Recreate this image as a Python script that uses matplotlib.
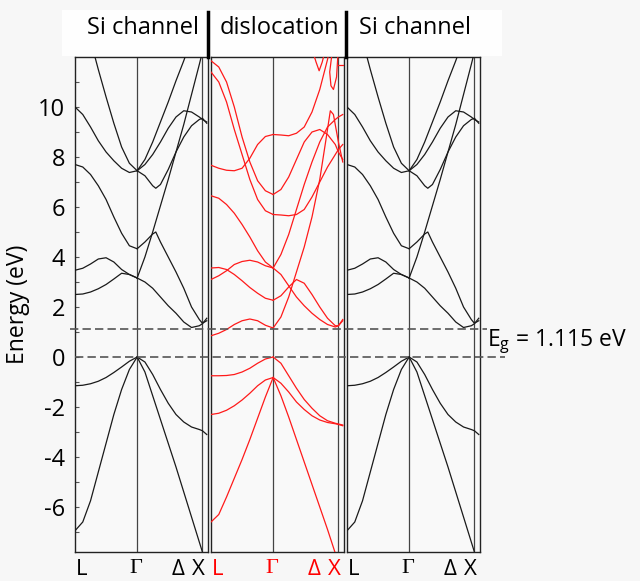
import matplotlib as mpl
from matplotlib import pyplot as plt, transforms as mtr, ticker as tkr
from matplotlib.lines import Line2D
from matplotlib.patches import Rectangle

mpl.use('Agg')

plt.rcParams['font.family'] = ['Open Sans', 'DejaVu Sans']

# k-path positions (L - Gamma - X), energies in eV
K_LG = [0, 0.125, 0.25, 0.375, 0.5, 0.625, 0.75, 0.875, 1.0]
K_GX = [1.0, 1.125, 1.25, 1.375, 1.5, 1.625, 1.75, 1.875, 2.0, 2.05, 2.12]
K_X = 2.05
E_GAP = 1.115

panel_titles = ['Si channel', 'dislocation', 'Si channel']
k_labels = ['L', '\u0393', '\u0394', 'X']
k_label_pos = [0.1, 0.98, 1.66, 1.99]
y_ticks = [-6, -4, -2, 0, 2, 4, 6, 8, 10]

# bulk Si bands (black, used for both channel panels)
si_valence = [
    (K_LG, [-1.15, -1.13, -1.07, -0.97, -0.82, -0.62, -0.4, -0.17, 0.0]),
    (K_GX, [0.0, -0.2, -0.7, -1.3, -1.85, -2.3, -2.6, -2.8, -2.9, -2.95, -3.1]),
    (K_LG, [-6.95, -6.6, -5.75, -4.6, -3.45, -2.3, -1.3, -0.5, 0.0]),
    (K_GX, [0.0, -0.6, -1.55, -2.5, -3.45, -4.4, -5.4, -6.4, -7.4, -7.8, -8.4]),
]
si_conduction = [
    (K_LG, [2.5, 2.52, 2.6, 2.73, 2.9, 3.12, 3.35, 3.3, 3.16]),
    (K_LG, [3.47, 3.55, 3.72, 3.92, 3.97, 3.8, 3.5, 3.3, 3.16]),
    (K_GX, [3.16, 3.0, 2.75, 2.4, 2.05, 1.75, 1.4, 1.18, 1.25, 1.33, 1.55]),
    (K_LG, [7.7, 7.6, 7.3, 6.85, 6.3, 5.6, 4.95, 4.45, 4.33]),
    ([1.0, 1.125, 1.25, 1.3, 1.375, 1.5, 1.625, 1.75, 1.875, 2.0, 2.05, 2.12],
     [4.33, 4.6, 4.92, 5.0, 4.6, 4.0, 3.4, 2.75, 2.0, 1.5, 1.35, 1.45]),
    (K_GX[:10], [3.16, 4.0, 5.0, 6.05, 7.1, 8.2, 9.3, 10.5, 11.7, 12.2]),
    (K_LG, [10.0, 9.7, 9.2, 8.65, 8.2, 7.85, 7.55, 7.38, 7.45]),
    ([0.3, 0.375, 0.5, 0.625, 0.75, 0.875, 1.0],
     [12.2, 11.5, 10.4, 9.35, 8.4, 7.75, 7.45]),
    (K_GX, [7.45, 7.7, 8.1, 8.6, 9.15, 9.6, 9.85, 9.8, 9.6, 9.5, 9.4]),
    ([1.0, 1.125, 1.25, 1.3, 1.375, 1.5, 1.625, 1.75, 1.875, 2.0, 2.05, 2.12],
     [7.45, 7.25, 6.85, 6.75, 6.9, 7.5, 8.2, 8.8, 9.25, 9.5, 9.55, 9.35]),
    ([1.0, 1.125, 1.25, 1.375, 1.5, 1.625, 1.75, 1.8],
     [7.45, 7.9, 8.6, 9.4, 10.2, 11.05, 11.85, 12.2]),
]

# dislocation bands (red)
disl_valence = [
    (K_LG, [-0.75, -0.75, -0.74, -0.7, -0.6, -0.45, -0.25, -0.08, 0.0]),
    (K_GX, [0.0, -0.25, -0.75, -1.25, -1.7, -2.05, -2.35, -2.55, -2.65, -2.68, -2.72]),
    (K_LG, [-2.3, -2.25, -2.13, -1.95, -1.72, -1.45, -1.15, -0.92, -0.82]),
    (K_GX, [-0.82, -1.05, -1.4, -1.8, -2.1, -2.35, -2.52, -2.62, -2.67, -2.7, -2.75]),
    (K_LG, [-6.6, -6.3, -5.6, -4.85, -4.1, -3.3, -2.45, -1.6, -0.82]),
    (K_GX[:9], [-0.82, -1.55, -2.4, -3.3, -4.2, -5.1, -6.0, -6.9, -7.85]),
]
disl_conduction = [
    (K_LG, [0.85, 0.95, 1.1, 1.3, 1.45, 1.52, 1.45, 1.27, 1.16]),
    ([1.0, 1.125, 1.25, 1.375, 1.5, 1.625, 1.75, 1.85, 1.92, 1.97, 2.05, 2.12],
     [1.16, 1.6, 2.4, 3.4, 4.4, 5.6, 7.1, 8.7, 9.85, 9.7, 8.6, 7.8]),
    (K_LG, [3.56, 3.58, 3.5, 3.3, 3.05, 2.78, 2.55, 2.35, 2.27]),
    (K_GX, [2.27, 2.45, 2.8, 3.1, 2.95, 2.5, 2.0, 1.55, 1.25, 1.25, 1.45]),
    (K_LG, [3.1, 3.25, 3.45, 3.7, 3.82, 3.87, 3.8, 3.65, 3.56]),
    (K_GX, [3.56, 3.3, 2.85, 2.4, 2.05, 1.75, 1.5, 1.3, 1.2, 1.25, 1.5]),
    (K_LG, [6.45, 6.35, 6.1, 5.75, 5.3, 4.8, 4.25, 3.8, 3.56]),
    (K_GX, [3.56, 4.1, 4.9, 5.9, 6.9, 7.8, 8.6, 9.2, 9.5, 9.6, 9.7]),
    (K_LG, [11.4, 11.0, 10.2, 9.1, 8.1, 7.1, 6.3, 5.85, 5.7]),
    (K_GX, [5.7, 5.68, 5.65, 5.7, 5.9, 6.4, 7.0, 7.6, 8.1, 8.3, 8.5]),
    (K_LG, [11.85, 11.6, 11.0, 10.0, 8.8, 7.8, 7.05, 6.65, 6.5]),
    (K_GX, [6.5, 6.7, 7.2, 7.9, 8.6, 9.0, 9.1, 8.9, 8.5, 8.2, 7.9]),
    (K_LG, [7.67, 7.55, 7.47, 7.45, 7.55, 7.95, 8.5, 8.82, 8.9]),
    ([1.0, 1.125, 1.25, 1.375, 1.5, 1.625, 1.75, 1.875, 1.9],
     [8.9, 8.88, 8.85, 8.95, 9.2, 9.8, 10.7, 11.9, 12.2]),
    ([1.64, 1.69, 1.74, 1.79, 1.83], [12.2, 11.8, 11.45, 11.8, 12.2]),
    ([1.95, 1.91, 1.93, 1.97, 2.02, 2.04], [12.2, 11.4, 10.85, 10.7, 11.2, 12.0]),
    ([2.05, 2.12], [11.7, 11.7]),
]

W, H = 640, 581
fig = plt.figure(figsize=(W / 100, H / 100), dpi=100, facecolor='#f7f7f7')

# white box behind the panel titles
fig.patches.append(Rectangle((62 / W, 1 - 56 / H), 440 / W, 46 / H,
                             transform=fig.transFigure, facecolor='#fefefe',
                             edgecolor='none', zorder=0))

panel_left = [75, 211, 347]
panels = [(si_valence + si_conduction, '#1a1a1a', 'black'),
          (disl_valence + disl_conduction, '#ff1a1a', '#ff0000'),
          (si_valence + si_conduction, '#1a1a1a', 'black')]
axes = []
for i, (bands, color, lab_color) in enumerate(panels):
    ax = fig.add_axes([panel_left[i] / W, 1 - 552 / H, 133 / W, 495 / H])
    ax.set_facecolor('#f9f9f9')
    for k, e in bands:
        ax.plot(k, e, color=color, lw=0.9, zorder=3)
    ax.axvline(1.0, color='#444444', lw=0.9, zorder=2)
    ax.axvline(K_X, color='#444444', lw=0.9, zorder=2)
    ax.set_xlim(0, 2.14)
    ax.set_ylim(-7.8, 12.0)
    ax.set_xticks([])
    for s in ax.spines.values():
        s.set_color('#222222')
        s.set_linewidth(1.0)
    if i == 0:
        ax.set_yticks(y_ticks)
        ax.set_yticks(range(-7, 12), minor=True)
        ax.yaxis.set_major_formatter(tkr.FuncFormatter(lambda v, _: '%d' % v))
        ax.tick_params(axis='y', which='both', direction='in', length=3,
                       width=0.8, labelsize=17, pad=7, color='#555555')
        ax.set_ylabel('Energy (eV)', fontsize=16.5, labelpad=6)
    else:
        ax.set_yticks([])
    tr = mtr.blended_transform_factory(ax.transData, ax.transAxes)
    for lab, kp in zip(k_labels, k_label_pos):
        fam = ['Liberation Serif', 'DejaVu Serif'] if lab == '\u0393' else None
        ax.text(kp, -0.015, lab, transform=tr, ha='center', va='top',
                fontsize=16, color=lab_color, family=fam)
    cx = (panel_left[i] + 68) / W
    fig.text(cx, 1 - 28 / H, panel_titles[i], ha='center', va='center',
             fontsize=17)
    axes.append(ax)

# band-edge dashed lines across all panels
tr_fig = mtr.blended_transform_factory(fig.transFigure, axes[0].transData)
fig.lines.append(Line2D([70 / W, 487 / W], [E_GAP, E_GAP], transform=tr_fig,
                        color='#555555', lw=1.2, ls=(0, (5, 2.5)), zorder=5))
fig.lines.append(Line2D([75 / W, 505 / W], [0, 0], transform=tr_fig,
                        color='#555555', lw=1.2, ls=(0, (5, 2.5)), zorder=5))

# thick separators between titles
for xs in [208, 346]:
    fig.lines.append(Line2D([xs / W, xs / W], [1 - 12 / H, 1 - 57 / H],
                            transform=fig.transFigure, color='black', lw=2.5))

fig.text(487 / W, 1 - 342 / H, r'E$_\mathregular{g}$ = 1.115 eV',
         ha='left', va='center', fontsize=16.5)

plt.savefig('out.png', dpi=100, facecolor=fig.get_facecolor())
